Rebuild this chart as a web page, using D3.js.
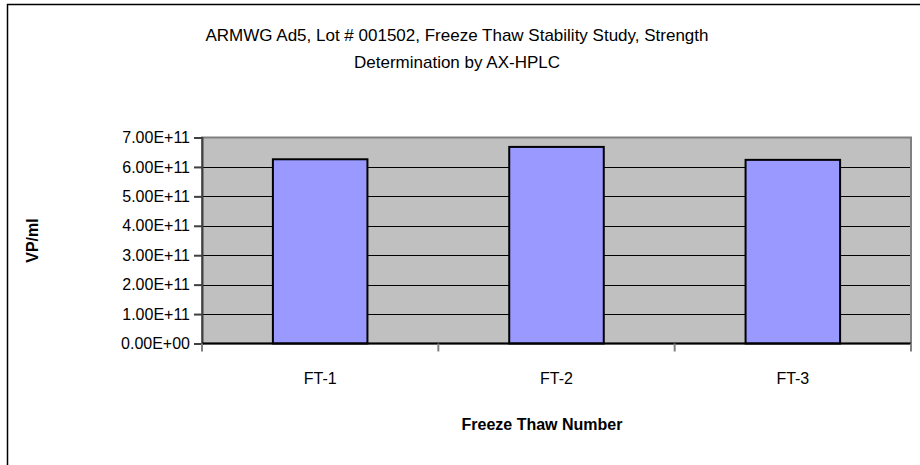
<!DOCTYPE html>
<html lang='en'>
<head>
  <meta charset='utf-8'/>
  <title>ARMWG Ad5 Freeze Thaw</title>
  <script src='https://d3js.org/d3.v7.min.js'></script>
  <style>
    body{margin:0;background:#ffffff;font-family:'Liberation Sans',Arial,sans-serif;}
  </style>
</head>
<body>
<svg id='chart'></svg>
<script>
// Data
const categories = ['FT-1', 'FT-2', 'FT-3'];
const values = [6.26e11, 6.68e11, 6.24e11];
const yTicks = [0, 1e11, 2e11, 3e11, 4e11, 5e11, 6e11, 7e11];
const titleLines = ['ARMWG Ad5, Lot # 001502, Freeze Thaw Stability Study, Strength', 'Determination by AX-HPLC'];

const W = 920, H = 465;
const plot = {left: 202, right: 911, top: 137.5, bottom: 343.5};

const svg = d3.select('#chart').attr('width', W).attr('height', H);

// chart frame
svg.append('rect')
  .attr('x', 7.5).attr('y', 4.5).attr('width', W).attr('height', H)
  .attr('fill', '#fff').attr('stroke', '#000').attr('stroke-width', 1.5);

const x = d3.scaleBand().domain(categories).range([plot.left, plot.right]).paddingInner(0.6).paddingOuter(0.3);
const y = d3.scaleLinear().domain([0, 7e11]).range([plot.bottom, plot.top]);

// plot area
svg.append('rect')
  .attr('x', plot.left).attr('y', plot.top)
  .attr('width', plot.right - plot.left).attr('height', plot.bottom - plot.top)
  .attr('fill', '#c0c0c0');

// gridlines
svg.append('g').selectAll('line').data(yTicks.slice(1, -1)).join('line')
  .attr('x1', plot.left).attr('x2', plot.right)
  .attr('y1', d => Math.round(y(d)) + 0.5).attr('y2', d => Math.round(y(d)) + 0.5)
  .attr('stroke', '#000').attr('stroke-width', 1);

// plot border
svg.append('rect')
  .attr('x', plot.left).attr('y', plot.top)
  .attr('width', plot.right - plot.left).attr('height', plot.bottom - plot.top)
  .attr('fill', 'none').attr('stroke', '#808080').attr('stroke-width', 2);

// bars
svg.append('g').selectAll('rect').data(values).join('rect')
  .attr('x', (d, i) => x(categories[i]))
  .attr('y', d => y(d))
  .attr('width', x.bandwidth())
  .attr('height', d => y(0) - y(d))
  .attr('fill', '#9999ff')
  .attr('stroke', '#000').attr('stroke-width', 2);

// y axis
const yAxis = svg.append('g')
  .attr('transform', `translate(${plot.left},0)`)
  .call(d3.axisLeft(y).tickValues(yTicks).tickSize(8).tickPadding(4)
    .tickFormat(d => d3.format('.2e')(d).replace('e+', 'E+').replace(/E\+(\d)$/, 'E+0$1')));
yAxis.select('.domain').attr('stroke', '#404040').attr('stroke-width', 2);
yAxis.selectAll('.tick line').attr('stroke', '#404040').attr('stroke-width', 2);
yAxis.selectAll('.tick text')
  .attr('font-family', "'Liberation Sans',Arial,sans-serif")
  .attr('font-size', 16).attr('fill', '#000');

// x axis
const xBounds = [plot.left, ...categories.slice(1).map(c => x(c) - x.step() * x.paddingInner() / 2), plot.right];
svg.append('line')
  .attr('x1', plot.left).attr('x2', plot.right)
  .attr('y1', plot.bottom).attr('y2', plot.bottom)
  .attr('stroke', '#000').attr('stroke-width', 2);
svg.append('g').selectAll('line').data(xBounds).join('line')
  .attr('x1', d => d).attr('x2', d => d)
  .attr('y1', plot.bottom).attr('y2', plot.bottom + 8)
  .attr('stroke', '#808080').attr('stroke-width', 2);
svg.append('g').selectAll('text').data(categories).join('text')
  .attr('x', d => x(d) + x.bandwidth() / 2)
  .attr('y', 384)
  .attr('text-anchor', 'middle')
  .attr('font-size', 16)
  .text(d => d);

// titles
svg.append('text')
  .attr('x', 457).attr('text-anchor', 'middle')
  .attr('font-size', 17)
  .selectAll('tspan').data(titleLines).join('tspan')
  .attr('x', 457)
  .attr('y', (d, i) => 41 + i * 27)
  .text(d => d);

svg.append('text')
  .attr('x', 542).attr('y', 430)
  .attr('text-anchor', 'middle')
  .attr('font-size', 16).attr('font-weight', 'bold')
  .text('Freeze Thaw Number');

svg.append('text')
  .attr('transform', 'translate(38,' + ((plot.top + plot.bottom) / 2) + ') rotate(-90)')
  .attr('text-anchor', 'middle')
  .attr('font-size', 16).attr('font-weight', 'bold')
  .text('VP/ml');
</script>
</body>
</html>
